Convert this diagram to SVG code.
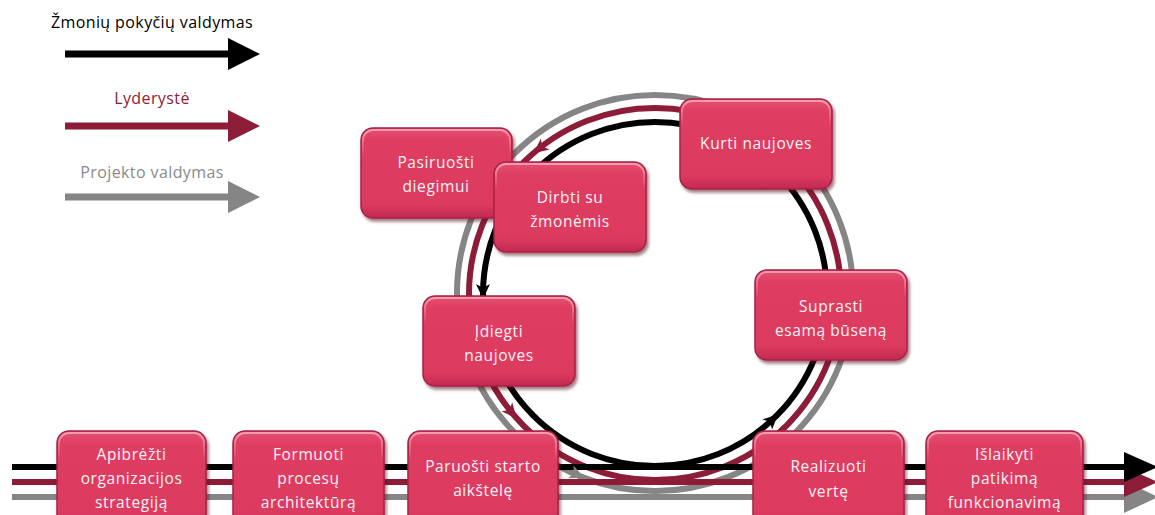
<svg xmlns="http://www.w3.org/2000/svg" width="1155" height="515" viewBox="0 0 1155 515">
<style>
.lg{font-family:"Open Sans","DejaVu Sans",sans-serif;font-size:16px;letter-spacing:0.4px;text-anchor:middle}
.nt{font-family:"Open Sans","DejaVu Sans",sans-serif;font-size:15.5px;letter-spacing:0.6px;fill:#fff2f5;text-anchor:middle}
.nd{fill:url(#ng);stroke:#a82146;stroke-width:1.5;filter:url(#sh)}
.hl{fill:none;stroke:url(#hg);stroke-width:2}
.blk{stroke:#000;fill:none;stroke-width:6}
.red{stroke:#8c1c38;fill:none;stroke-width:6}
.gry{stroke:#858585;fill:none;stroke-width:6}
</style>
<defs>
<linearGradient id="ng" x1="0" y1="0" x2="0" y2="1">
<stop offset="0" stop-color="#e4506f"/>
<stop offset="0.15" stop-color="#df3c62"/>
<stop offset="0.85" stop-color="#dc3a60"/>
<stop offset="1" stop-color="#c22a50"/>
</linearGradient>
<linearGradient id="hg" x1="0" y1="0" x2="0" y2="1">
<stop offset="0" stop-color="#fff" stop-opacity="0.45"/>
<stop offset="0.3" stop-color="#fff" stop-opacity="0"/>
</linearGradient>
<filter id="sh" x="-10%" y="-10%" width="125%" height="130%">
<feDropShadow dx="2" dy="3" stdDeviation="1.5" flood-color="#5a0f22" flood-opacity="0.55"/>
</filter>
<polygon id="ah" points="7,0 -8,-7 -4,0 -8,7"/>
</defs>

<g id="legend">
<text class="lg" x="152" y="28" fill="#000">Žmonių pokyčių valdymas</text>
<line x1="65" y1="54" x2="232" y2="54" stroke="#000" stroke-width="7"/>
<polygon points="228,38 260,54 228,70" fill="#000"/>
<text class="lg" x="152" y="104" fill="#8c1c38">Lyderystė</text>
<line x1="65" y1="126" x2="232" y2="126" stroke="#8c1c38" stroke-width="7"/>
<polygon points="228,110 260,126 228,142" fill="#8c1c38"/>
<text class="lg" x="152" y="178" fill="#8a8a8a">Projekto valdymas</text>
<line x1="65" y1="197" x2="232" y2="197" stroke="#858585" stroke-width="7"/>
<polygon points="228,181 260,197 228,213" fill="#858585"/>
</g>

<g id="connectors">
<circle class="gry" cx="655" cy="293" r="198"/>
<circle class="red" cx="655" cy="294" r="186"/>
<circle class="blk" cx="655" cy="294" r="172"/>
<line class="gry" x1="12" y1="497" x2="1130" y2="497"/>
<line class="red" x1="12" y1="482" x2="1130" y2="482"/>
<line class="blk" x1="12" y1="467" x2="1130" y2="467"/>
<polygon points="1124,481 1158,497 1124,513" fill="#858585"/>
<polygon points="1124,467 1158,482 1124,497" fill="#8c1c38"/>
<polygon points="1124,452 1158,467 1124,482" fill="#000"/>
<use href="#ah" transform="translate(483,292) rotate(90)" fill="#000"/>
<use href="#ah" transform="translate(773,419) rotate(-43.5)" fill="#000"/>
<use href="#ah" transform="translate(539,149) rotate(141.4)" fill="#8c1c38"/>
<use href="#ah" transform="translate(512,413) rotate(50.2)" fill="#8c1c38"/>
<use href="#ah" transform="translate(578,475) rotate(22.9)" fill="#858585"/>
</g>

<g id="n-pasiruosti">
<rect class="nd" x="361" y="128" width="151" height="90" rx="12"/>
<rect class="hl" x="363" y="130" width="147" height="86" rx="10"/>
<text class="nt" x="436" y="168">Pasiruošti</text>
<text class="nt" x="436" y="192">diegimui</text>
</g>
<g id="n-dirbti">
<rect class="nd" x="494" y="162" width="152" height="90" rx="12"/>
<rect class="hl" x="496" y="164" width="148" height="86" rx="10"/>
<text class="nt" x="570" y="203">Dirbti su</text>
<text class="nt" x="570" y="227">žmonėmis</text>
</g>
<g id="n-kurti">
<rect class="nd" x="680" y="99" width="152" height="90" rx="12"/>
<rect class="hl" x="682" y="101" width="148" height="86" rx="10"/>
<text class="nt" x="756" y="149">Kurti naujoves</text>
</g>
<g id="n-suprasti">
<rect class="nd" x="755" y="270" width="152" height="90" rx="12"/>
<rect class="hl" x="757" y="272" width="148" height="86" rx="10"/>
<text class="nt" x="831" y="312">Suprasti</text>
<text class="nt" x="831" y="336">esamą būseną</text>
</g>
<g id="n-idiegti">
<rect class="nd" x="423" y="296" width="152" height="90" rx="12"/>
<rect class="hl" x="425" y="298" width="148" height="86" rx="10"/>
<text class="nt" x="499" y="337">Įdiegti</text>
<text class="nt" x="499" y="361">naujoves</text>
</g>
<g id="n-paruosti">
<rect class="nd" x="408" y="431" width="150" height="96" rx="12"/>
<rect class="hl" x="410" y="433" width="146" height="92" rx="10"/>
<text class="nt" x="483" y="472">Paruošti starto</text>
<text class="nt" x="483" y="496">aikštelę</text>
</g>
<g id="n-apibrezti">
<rect class="nd" x="57" y="431" width="149" height="96" rx="12"/>
<rect class="hl" x="59" y="433" width="145" height="92" rx="10"/>
<text class="nt" x="131.5" y="460">Apibrėžti</text>
<text class="nt" x="131.5" y="484">organizacijos</text>
<text class="nt" x="131.5" y="508">strategiją</text>
</g>
<g id="n-formuoti">
<rect class="nd" x="233" y="431" width="151" height="96" rx="12"/>
<rect class="hl" x="235" y="433" width="147" height="92" rx="10"/>
<text class="nt" x="308.5" y="460">Formuoti</text>
<text class="nt" x="308.5" y="484">procesų</text>
<text class="nt" x="308.5" y="508">architektūrą</text>
</g>
<g id="n-realizuoti">
<rect class="nd" x="753" y="431" width="151" height="96" rx="12"/>
<rect class="hl" x="755" y="433" width="147" height="92" rx="10"/>
<text class="nt" x="828.5" y="472">Realizuoti</text>
<text class="nt" x="828.5" y="497">vertę</text>
</g>
<g id="n-islaikyti">
<rect class="nd" x="926" y="431" width="157" height="96" rx="12"/>
<rect class="hl" x="928" y="433" width="153" height="92" rx="10"/>
<text class="nt" x="1004.5" y="460">Išlaikyti</text>
<text class="nt" x="1004.5" y="484">patikimą</text>
<text class="nt" x="1004.5" y="508">funkcionavimą</text>
</g>
</svg>
